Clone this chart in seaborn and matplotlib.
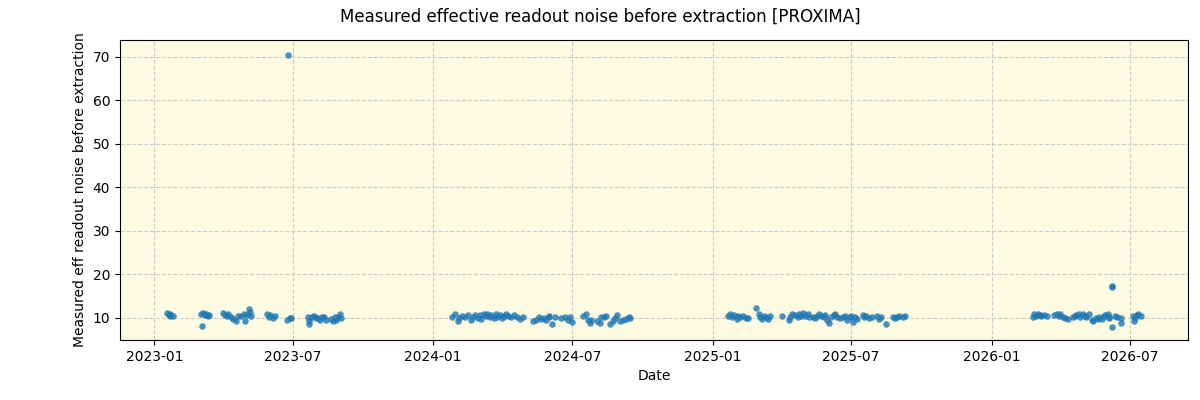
import pandas as pd
import seaborn as sns
import matplotlib.pyplot as plt
import matplotlib.dates as mdates

# 2023 season
dates_2023 = ["2023-01-18", "2023-01-20", "2023-01-21", "2023-01-22", "2023-01-25",
              "2023-03-03", "2023-03-04", "2023-03-05", "2023-03-08", "2023-03-09", "2023-03-12", "2023-03-13",
              "2023-04-01", "2023-04-03", "2023-04-06", "2023-04-08", "2023-04-11", "2023-04-14", "2023-04-18",
              "2023-04-20", "2023-04-25", "2023-04-28", "2023-04-29", "2023-05-02", "2023-05-05", "2023-05-06",
              "2023-05-08", "2023-05-29", "2023-05-31", "2023-06-02", "2023-06-05", "2023-06-08",
              "2023-06-23", "2023-06-25", "2023-06-27", "2023-06-29",
              "2023-07-21", "2023-07-22", "2023-07-23", "2023-07-26", "2023-07-29", "2023-07-31", "2023-08-03",
              "2023-08-06", "2023-08-08", "2023-08-11", "2023-08-13", "2023-08-20", "2023-08-23", "2023-08-25",
              "2023-08-27", "2023-08-29", "2023-09-01", "2023-09-02"]
noise_2023 = [11.0, 10.6, 10.4, 10.8, 10.5,
              10.8, 8.2, 11.0, 10.6, 10.9, 10.4, 10.7,
              11.0, 10.7, 10.5, 10.9, 10.3, 9.8, 9.2,
              10.4, 10.5, 10.8, 9.3, 10.6, 12.0, 11.3,
              10.5, 10.8, 10.2, 10.6, 9.9, 10.5,
              9.6, 70.5, 10.0, 9.9,
              10.1, 8.6, 9.3, 10.2, 10.4, 9.9, 10.0,
              9.4, 10.3, 10.1, 9.6, 9.8, 9.2, 10.1,
              9.5, 10.3, 10.8, 9.9]

# 2024 season
dates_2024 = ["2024-01-25", "2024-01-29", "2024-02-02", "2024-02-04", "2024-02-08", "2024-02-12", "2024-02-16",
              "2024-02-19", "2024-02-22", "2024-02-25", "2024-02-28", "2024-03-02", "2024-03-04", "2024-03-07",
              "2024-03-10", "2024-03-12", "2024-03-15", "2024-03-17", "2024-03-20", "2024-03-23", "2024-03-25",
              "2024-03-28", "2024-03-31", "2024-04-02", "2024-04-05", "2024-04-08", "2024-04-12", "2024-04-16",
              "2024-04-20", "2024-04-23", "2024-04-27",
              "2024-05-11", "2024-05-15", "2024-05-19", "2024-05-21", "2024-05-25", "2024-05-28", "2024-05-31",
              "2024-06-01", "2024-06-05", "2024-06-09", "2024-06-16", "2024-06-21", "2024-06-25", "2024-06-28",
              "2024-07-01", "2024-07-15", "2024-07-19", "2024-07-21", "2024-07-24", "2024-07-26",
              "2024-08-03", "2024-08-06", "2024-08-08", "2024-08-11", "2024-08-14", "2024-08-20", "2024-08-23",
              "2024-08-26", "2024-08-28", "2024-09-01", "2024-09-05", "2024-09-09", "2024-09-13", "2024-09-15"]
noise_2024 = [10.2, 10.8, 9.3, 10.0, 10.5, 10.2, 10.6,
              9.6, 10.3, 10.7, 10.0, 10.6, 9.8, 10.8,
              10.4, 10.9, 10.2, 10.6, 9.9, 10.8, 10.3,
              10.7, 10.0, 10.5, 10.9, 10.4, 10.2, 10.6,
              10.3, 9.8, 10.1,
              9.3, 9.6, 10.3, 9.8, 10.0, 9.5, 10.2,
              10.4, 8.6, 10.3, 9.9, 10.2, 9.4, 10.3,
              9.0, 10.4, 10.8, 9.4, 8.8, 9.6,
              9.3, 8.8, 10.1, 10.3, 10.4, 8.5, 9.2,
              10.0, 10.6, 9.3, 9.4, 9.8, 10.2, 10.0]

# 2025 season
dates_2025 = ["2025-01-21", "2025-01-24", "2025-01-26", "2025-01-29", "2025-02-01", "2025-02-03", "2025-02-06",
              "2025-02-10", "2025-02-14", "2025-02-16", "2025-02-27", "2025-03-03", "2025-03-04", "2025-03-07",
              "2025-03-09", "2025-03-12", "2025-03-14", "2025-03-17", "2025-04-01", "2025-04-11", "2025-04-12",
              "2025-04-15", "2025-04-19", "2025-04-22", "2025-04-24", "2025-04-27", "2025-04-29", "2025-05-02",
              "2025-05-05", "2025-05-07", "2025-05-12", "2025-05-15", "2025-05-18", "2025-05-20", "2025-05-23",
              "2025-05-26", "2025-05-28", "2025-05-31", "2025-06-02", "2025-06-05", "2025-06-08", "2025-06-10",
              "2025-06-13", "2025-06-17", "2025-06-21", "2025-06-23", "2025-06-26", "2025-06-29", "2025-07-01",
              "2025-07-04", "2025-07-06", "2025-07-09", "2025-07-16", "2025-07-18", "2025-07-21", "2025-07-25",
              "2025-07-29", "2025-08-04", "2025-08-07", "2025-08-09", "2025-08-16", "2025-08-25", "2025-08-28",
              "2025-08-30", "2025-09-02", "2025-09-07", "2025-09-10"]
noise_2025 = [10.5, 10.8, 10.3, 10.6, 9.8, 10.5, 10.2,
              10.4, 10.0, 9.9, 12.2, 10.8, 10.3, 9.7,
              10.5, 10.2, 9.8, 10.5, 10.5, 9.6, 10.3,
              10.9, 10.6, 10.1, 10.8, 10.4, 11.0, 10.5,
              10.9, 10.2, 10.3, 9.9, 10.5, 10.8, 10.4,
              10.1, 10.7, 9.5, 8.9, 10.2, 10.6, 10.9,
              10.3, 9.9, 10.1, 10.4, 9.6, 10.2, 10.5,
              9.0, 10.3, 9.8, 10.6, 10.1, 10.4, 9.9,
              10.3, 10.5, 9.8, 10.1, 8.6, 10.3, 9.9,
              10.1, 10.4, 10.2, 10.5]

# 2026 season
dates_2026 = ["2026-02-24", "2026-02-25", "2026-02-28", "2026-03-02", "2026-03-05", "2026-03-07", "2026-03-10",
              "2026-03-14", "2026-03-24", "2026-03-27", "2026-03-30", "2026-04-01", "2026-04-04", "2026-04-07",
              "2026-04-11", "2026-04-17", "2026-04-20", "2026-04-22", "2026-04-25", "2026-04-27", "2026-04-30",
              "2026-05-03", "2026-05-05", "2026-05-08", "2026-05-12", "2026-05-14", "2026-05-17", "2026-05-20",
              "2026-05-22", "2026-05-25", "2026-05-28", "2026-05-30", "2026-06-02", "2026-06-03", "2026-06-04",
              "2026-06-07", "2026-06-08", "2026-06-08", "2026-06-11", "2026-06-14", "2026-06-19", "2026-06-19",
              "2026-07-05", "2026-07-06", "2026-07-07", "2026-07-10", "2026-07-12", "2026-07-15"]
noise_2026 = [10.3, 10.8, 10.5, 10.9, 10.6, 10.4, 10.7,
              10.5, 10.6, 10.9, 10.5, 10.8, 10.2, 9.9,
              9.8, 10.1, 10.4, 10.6, 10.8, 10.3, 10.9,
              10.5, 10.2, 10.8, 9.5, 9.3, 10.0, 9.7,
              10.2, 9.8, 10.4, 10.6, 10.9, 10.3, 10.0,
              17.4, 17.2, 7.9, 10.5, 10.3, 8.8, 10.0,
              10.5, 9.3, 10.0, 10.6, 10.8, 10.5]

df = pd.DataFrame({
    "date": pd.to_datetime(dates_2023 + dates_2024 + dates_2025 + dates_2026),
    "noise": noise_2023 + noise_2024 + noise_2025 + noise_2026,
})

fig, ax = plt.subplots(figsize=(12, 4), dpi=100)
fig.subplots_adjust(left=0.1, right=0.99, top=0.9, bottom=0.15)
ax.set_facecolor("#fdfbe1")

sns.scatterplot(data=df, x="date", y="noise", ax=ax, color="#1f77b4",
                s=22, alpha=0.8, linewidth=0, zorder=3)

ax.grid(True, linestyle="--", color="#cccccc", linewidth=0.8)
ax.set_axisbelow(True)
ax.xaxis.set_major_locator(mdates.MonthLocator(bymonth=[1, 7]))
ax.xaxis.set_major_formatter(mdates.DateFormatter("%Y-%m"))
ax.set_xlim(pd.Timestamp("2022-11-17"), pd.Timestamp("2026-09-15"))
ax.set_ylim(4.9, 73.9)

ax.set_xlabel("Date")
ax.set_ylabel("Measured eff readout noise before extraction")
fig.suptitle("Measured effective readout noise before extraction [PROXIMA]", fontsize=12)

fig.savefig("out.png")
